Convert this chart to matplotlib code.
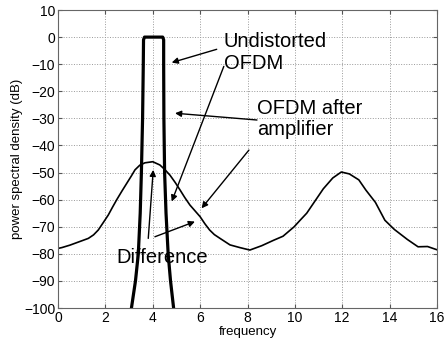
import numpy as np
import matplotlib.pyplot as plt

plt.rcParams['font.family'] = ['Liberation Sans', 'DejaVu Sans']

# spectrum of the amplified OFDM signal (thin curve)
amp_freq = [0, 0.16, 0.5, 1.0, 1.28, 1.5, 1.7, 1.9, 2.12, 2.3, 2.48, 2.7, 2.9,
            3.1, 3.25, 3.45, 3.67, 4.0, 4.3, 4.5, 4.73, 4.95, 5.15, 5.35, 5.57,
            5.8, 6.0, 6.2, 6.4, 6.6, 6.84, 7.26, 7.68, 8.1, 8.6, 9.1, 9.5,
            9.97, 10.2, 10.5, 10.85, 11.2, 11.6, 11.96, 12.3, 12.7, 13.0, 13.4,
            13.8, 14.2, 14.75, 15.2, 15.6, 16]
amp_psd = [-78, -77.7, -76.8, -75.2, -74.3, -73.0, -71.2, -68.6, -65.7, -62.8,
           -60, -56.8, -54, -51.2, -49, -47.3, -46.4, -46, -47.2, -48.8, -51,
           -53.7, -56.4, -59.2, -62, -64.3, -66.3, -68.9, -71.2, -72.9, -74.3,
           -76.7, -77.7, -78.6, -77, -75, -73.5, -70, -67.8, -65, -60.5, -56,
           -52, -49.8, -50.5, -52.7, -56.5, -61, -67.6, -71, -74.7, -77.4,
           -77.3, -78.5]

# undistorted OFDM spectrum (thick curve)
ofdm_freq = [3.04, 3.10, 3.27, 3.39, 3.47, 3.52, 3.57, 3.60, 3.61, 3.65, 4.0,
             4.42, 4.46, 4.46, 4.47, 4.50, 4.56, 4.65, 4.75, 4.88, 4.94]
ofdm_psd = [-105, -100, -90, -80, -65, -50, -30, -10, -1, 0, 0,
            0, -1, -10, -30, -50, -65, -80, -90, -100, -105]

fig = plt.figure(figsize=(4.47, 3.43), dpi=100)
ax = fig.add_axes([0.1298, 0.102, 0.8478, 0.8688])

ax.plot(amp_freq, amp_psd, color='black', lw=1.2)
ax.plot(ofdm_freq, ofdm_psd, color='black', lw=2.3)

ax.set_xlim(0, 16)
ax.set_ylim(-100, 10)
ax.set_xticks(np.arange(0, 17, 2))
ax.set_yticks(np.arange(-100, 11, 10))
ax.grid(True, linestyle=':', color='#999999', lw=0.7)
ax.tick_params(direction='in', top=True, right=True, length=3, labelsize=10,
               pad=2, color='#555555')
for s in ax.spines.values():
    s.set_color('#666666')
    s.set_linewidth(0.8)

ax.set_xlabel('frequency', fontsize=9.5, labelpad=1)
ax.set_ylabel('power spectral density (dB)', fontsize=9.5, labelpad=1)

arrow = dict(arrowstyle='-|>', color='black', lw=1.0, mutation_scale=9,
             shrinkA=0, shrinkB=0)

ax.text(7.0, -11.6, 'Undistorted\nOFDM', fontsize=14.5, va='baseline',
        linespacing=1.15)
ax.annotate('', xy=(4.8, -9.4), xytext=(6.7, -4.5), arrowprops=arrow)
ax.annotate('', xy=(4.8, -60.7), xytext=(7.0, -10.8), arrowprops=arrow)

ax.text(8.41, -36.1, 'OFDM after\namplifier', fontsize=14.5, va='baseline',
        linespacing=1.1)
ax.annotate('', xy=(4.94, -28.1), xytext=(8.4, -30.6), arrowprops=arrow)
ax.annotate('', xy=(6.06, -63.2), xytext=(8.06, -41.7), arrowprops=arrow)

ax.text(2.47, -83.3, 'Difference', fontsize=14.5, va='baseline')
ax.annotate('', xy=(4.02, -49.0), xytext=(3.81, -74.3), arrowprops=arrow)
ax.annotate('', xy=(5.78, -68.1), xytext=(4.09, -73.7), arrowprops=arrow)

fig.savefig('out.png', dpi=100)
